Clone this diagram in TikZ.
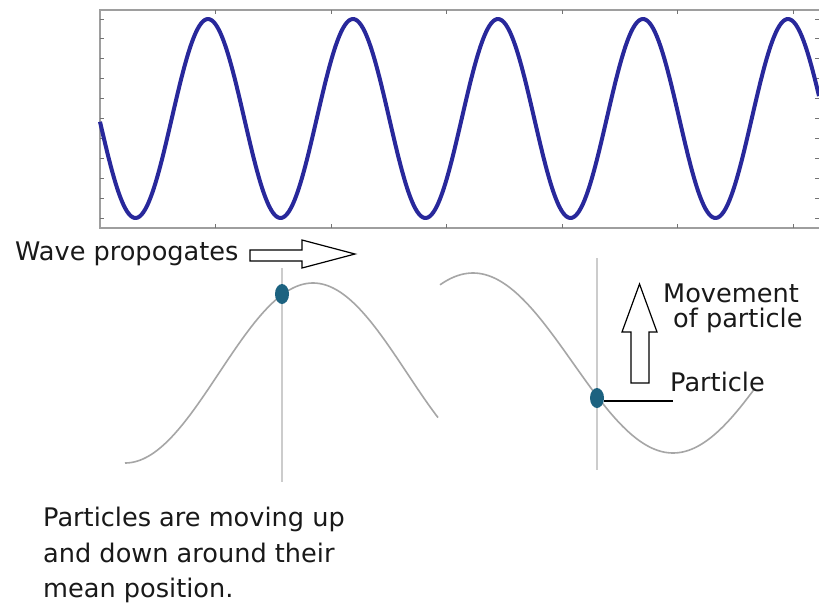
\documentclass[tikz,border=0pt]{standalone}
\usepackage{fontspec}
\setmainfont{DejaVu Sans}
\usetikzlibrary{shapes.geometric}
\definecolor{wavecol}{RGB}{40,40,155}
\definecolor{dotcol}{RGB}{28,98,128}
\definecolor{txtcol}{RGB}{25,25,25}
\begin{document}
\begin{tikzpicture}[x=1pt,y=-1pt,
  lbl/.style={font=\fontsize{25.6}{30}\selectfont, inner sep=0pt, text=txtcol},
  frame/.style={draw=black!38, line width=2pt},
  tickmark/.style={draw=black!55, line width=1pt},
  guide/.style={draw=black!20, line width=2.5pt},
  thinwave/.style={draw=black!35, line width=1.6pt},
  dot/.style={ellipse, fill=dotcol, minimum width=14pt, minimum height=20pt, inner sep=0pt},
  hollow/.style={draw=black, line width=1.2pt, fill=white, line join=miter}]
\fill[white] (0,0) rectangle (819,611);
\useasboundingbox (0,0) rectangle (819,611);
% plot frame
\draw[frame] (819,10) -- (100,10) -- (100,228) -- (819,228);
\foreach \k in {0,...,10}{
  \draw[tickmark] (100,{19+19.9*\k}) -- (104,{19+19.9*\k});
  \draw[tickmark] (819,{19+19.9*\k}) -- (815,{19+19.9*\k});
}
\foreach \k in {0,...,5}{
  \draw[tickmark] ({215.5+115.5*\k},10) -- ({215.5+115.5*\k},14);
  \draw[tickmark] ({215.5+115.5*\k},228) -- ({215.5+115.5*\k},224);
}
% main wave
\draw[wavecol, line width=4pt, line join=round]
  plot[domain=100:819, samples=400, smooth] (\x,{118.5-99.5*cos(2.48276*(\x-208))});
% wave propagates label and arrow
\node[lbl, anchor=base west] (wp) at (15,260) {Wave propogates};
\draw[hollow] (250,250) -- (302,250) -- (302,240) -- (355,254) -- (302,268) -- (302,261) -- (250,261) -- cycle;
% guide lines
\draw[guide] (282,268) -- (282,482);
\draw[guide] (597,258) -- (597,470);
% thin waves
\draw[thinwave] plot[domain=125:438, samples=120, smooth] (\x,{373-90*cos(0.957447*(\x-313))});
\draw[thinwave] plot[domain=440:755, samples=120, smooth] (\x,{363-90*cos(0.9*(\x-473))});
% particles
\node[dot] (p1) at (282,294) {};
\node[dot] (p2) at (597,398) {};
\coordinate (pe) at (673,401);
\draw[black, line width=1.5pt] (p2.east |- pe) -- (pe);
% up arrow
\draw[hollow] (631,383) -- (631,332) -- (622,332) -- (639.5,284) -- (657,332) -- (649,332) -- (649,383) -- cycle;
\node[lbl, anchor=north west, align=left, font=\fontsize{25.6}{25}\selectfont] (mv) at (663,284) {Movement\\\hspace*{10pt}of particle};
\node[lbl, anchor=base west] (pt) at (670,391) {Particle};
% bottom text
\node[lbl, anchor=north west, align=left, font=\fontsize{25.6}{35.5}\selectfont] (desc) at (43,507) {Particles are moving up\\and down around their\\mean position.};
\end{tikzpicture}
\end{document}
